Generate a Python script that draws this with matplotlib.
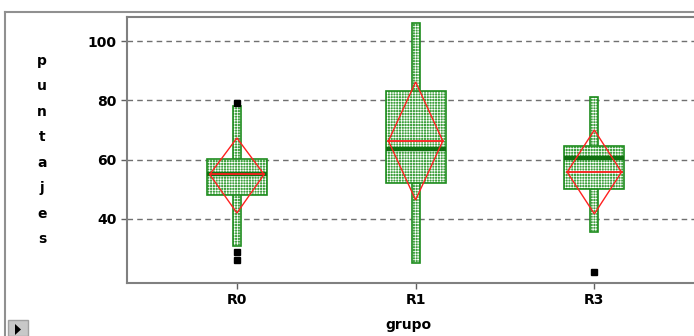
import matplotlib
matplotlib.use("Agg")
import matplotlib.pyplot as plt
from matplotlib.patches import Rectangle, Polygon
from matplotlib.lines import Line2D

plt.rcParams["hatch.linewidth"] = 0.5

groups = ["R0", "R1", "R3"]
whisker_lo = [31, 25, 35.5]
whisker_hi = [78, 106, 81]
q1 = [48, 52, 50]
median = [55, 63.5, 60.5]
q3 = [60.2, 83, 64.5]
mean = [55, 66.3, 55.8]
ci_lo = [42, 46.4, 41.7]
ci_hi = [67.3, 86.2, 70]
outliers = [[79, 29, 26], [], [22]]
yticks = [40, 60, 80, 100]

W, H = 694, 336
fig = plt.figure(figsize=(W / 100, H / 100), dpi=100)
fig.patch.set_facecolor("white")

left, right, top, bottom = 127, 698, 17, 283
ax = fig.add_axes([left / W, 1 - bottom / H, (right - left) / W, (bottom - top) / H])
ax.set_xlim(-0.615, 2.58)
ax.set_ylim(18.4, 108.1)

for y in yticks:
    ax.axhline(y, color="#707070", lw=1.0, ls=(0, (4, 3)), zorder=0)

green = "#1e8c1e"
face = "#3ea03e"
bw = 0.168
dw = 0.152
ww = 0.022
for i in range(len(groups)):
    rects = [(i - ww, whisker_lo[i], 2 * ww, whisker_hi[i] - whisker_lo[i], 2),
             (i - bw, q1[i], 2 * bw, q3[i] - q1[i], 5)]
    for (x0, y0, w, h, z) in rects:
        ax.add_patch(Rectangle((x0, y0), w, h, facecolor=face, edgecolor="none", zorder=z))
        ax.add_patch(Rectangle((x0, y0), w, h, facecolor="none", edgecolor="white",
                               hatch="++++++", lw=0, zorder=z + 0.1))
        ax.add_patch(Rectangle((x0, y0), w, h, facecolor="none", edgecolor=green,
                               lw=1.2, zorder=z + 0.2))
    ax.plot([i - bw, i + bw], [median[i]] * 2, color="#107010", lw=3.2, zorder=6,
            solid_capstyle="butt")
    ax.add_patch(Polygon([(i - dw, mean[i]), (i, ci_hi[i]), (i + dw, mean[i]), (i, ci_lo[i])],
                         closed=True, facecolor="none", edgecolor="#ff2020", lw=1.0, zorder=7))
    ax.plot([i - dw, i + dw], [mean[i]] * 2, color="#ff2020", lw=1.3, zorder=7)
    if outliers[i]:
        ax.plot([i] * len(outliers[i]), outliers[i], ls="none", marker="s", ms=4.5,
                color="black", zorder=8)

ax.set_yticks(yticks)
ax.set_yticklabels([str(v) for v in yticks], fontsize=10, fontweight="bold")
ax.set_xticks(range(len(groups)))
ax.set_xticklabels(groups, fontsize=10, fontweight="bold")
ax.tick_params(axis="both", colors="#606060", labelcolor="black", length=4, width=1)
for s in ax.spines.values():
    s.set_color("#808080")
    s.set_linewidth(1.5)

fig.text(42 / W, 1 - 150 / H, "\n".join("puntajes"), ha="center", va="center",
         fontsize=10, fontweight="bold", linespacing=2.05)
fig.text(408 / W, 1 - 325 / H, "grupo", ha="center", va="center", fontsize=10,
         fontweight="bold")

fig.add_artist(Line2D([5 / W, 5 / W], [1 - 12 / H, 0], transform=fig.transFigure,
                      color="#909090", lw=1.5))
fig.add_artist(Line2D([5 / W, 1], [1 - 12 / H, 1 - 12 / H], transform=fig.transFigure,
                      color="#909090", lw=1.5))
fig.add_artist(Rectangle((8 / W, 0), 20 / W, 16 / H, transform=fig.transFigure,
                         facecolor="#c8c8c8", edgecolor="#a0a0a0", lw=1))
fig.add_artist(Polygon([(15 / W, 1 / H), (15 / W, 12 / H), (21 / W, 6.5 / H)], closed=True,
                       transform=fig.transFigure, facecolor="black", edgecolor="none"))

fig.savefig("out.png", dpi=100)
